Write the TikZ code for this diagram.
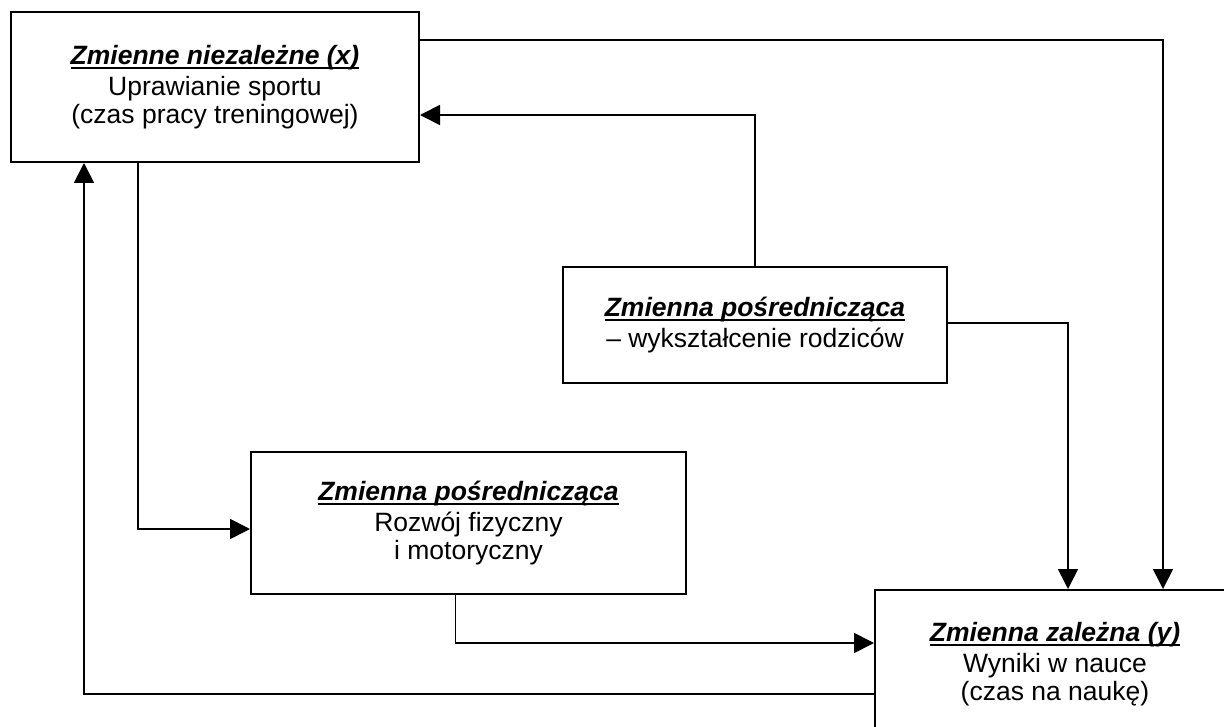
\documentclass[tikz,border=0pt]{standalone}
\usepackage{fontspec}
\setmainfont{Liberation Sans}
\usetikzlibrary{arrows.meta}
\newcommand\myul[1]{\leavevmode\setbox0\hbox{#1}\rlap{\rule[-5pt]{\wd0}{2.6pt}}\box0}
\newcommand\ttl[1]{\myul{\bfseries\itshape #1}}
\tikzset{
  box/.style={draw, line width=2pt, inner sep=0pt, align=center,
    font=\fontsize{26.5pt}{28pt}\selectfont},
  conn/.style={line width=1.7pt},
  arr/.style={conn, -{Triangle[length=20pt,width=20pt]}}
}
\begin{document}
\begin{tikzpicture}[x=1pt,y=-1pt]
\useasboundingbox (0,0) rectangle (1224,727);
\node[box, minimum width=408pt, minimum height=150pt] (A) at (215,87)
  {\ttl{Zmienne niezależne (x)}\\[3pt]Uprawianie sportu\\(czas pracy treningowej)};
\node[box, minimum width=384pt, minimum height=116pt] (M) at (755,325)
  {\ttl{Zmienna pośrednicząca}\\[3pt]– wykształcenie rodziców};
\node[box, minimum width=435pt, minimum height=142pt] (P) at (468.5,523)
  {\ttl{Zmienna pośrednicząca}\\[3pt]Rozwój fizyczny\\i motoryczny};
\node[box, minimum width=360pt, minimum height=148pt] (Y) at (1055,664)
  {\ttl{Zmienna zależna (y)}\\[3pt]Wyniki w nauce\\(czas na naukę)};
\draw[arr] ([yshift=-29pt]A.north east) -| ([xshift=108pt]Y.north);
\draw[arr] (M.north) |- ([yshift=-28pt]A.east);
\draw[arr] ([yshift=2pt]M.east) -| ([xshift=13pt]Y.north);
\draw[arr] ([xshift=-77pt]A.south) |- ([yshift=-6pt]P.west);
\draw[arr] ([xshift=-13pt]P.south) |- ([yshift=21pt]Y.west);
\draw[arr] ([yshift=-30pt]Y.west) -| ([xshift=-131pt]A.south);
\end{tikzpicture}
\end{document}
